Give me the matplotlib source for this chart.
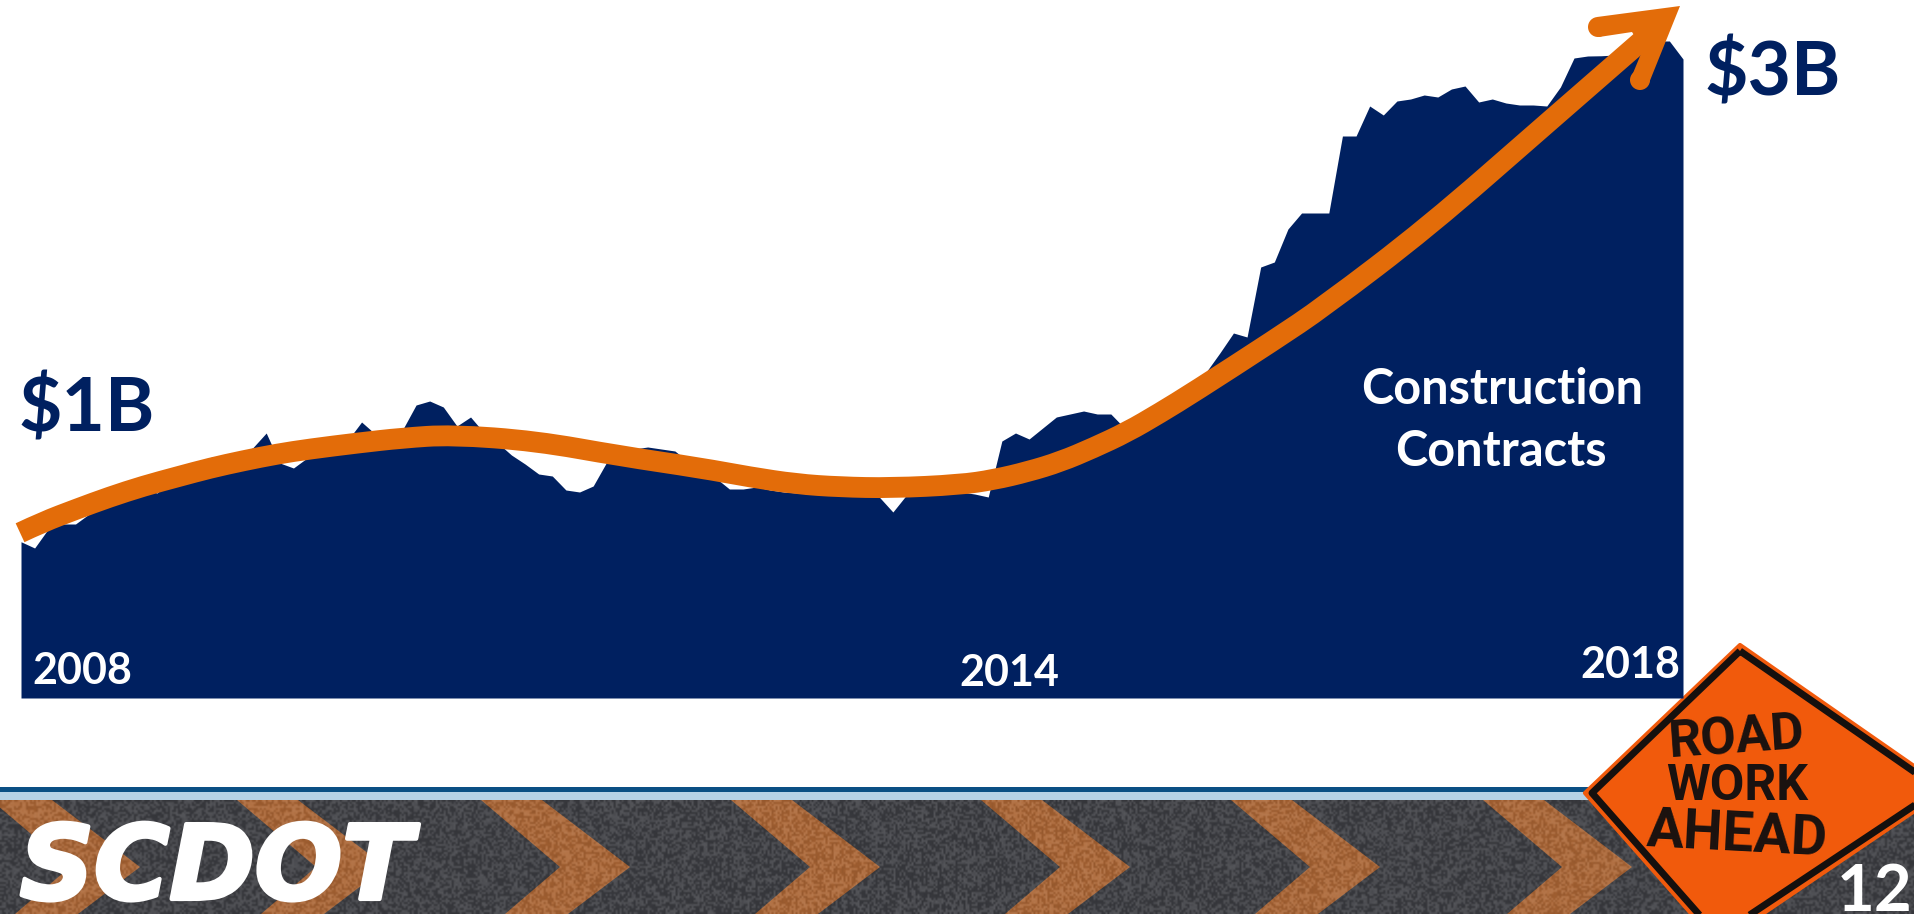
import numpy as np
import matplotlib
matplotlib.use("Agg")
import matplotlib.pyplot as plt
import matplotlib.patheffects as pe
from matplotlib.patches import Polygon, Circle, PathPatch
from matplotlib.path import Path

NAVY = "#002060"
ORANGE = "#E36C09"

# monthly construction contracts, $ billions
contracts = [
    1.000, 0.975, 1.051, 1.071, 1.071, 1.111, 1.135, 1.159, 1.179, 1.207, 1.195,
    1.255, 1.287, 1.307, 1.339, 1.339, 1.355, 1.375, 1.435, 1.315, 1.295, 1.335,
    1.359, 1.379, 1.407, 1.479, 1.431, 1.439, 1.447, 1.547, 1.563, 1.539, 1.463,
    1.499, 1.435, 1.395, 1.347, 1.311, 1.271, 1.263, 1.207, 1.199, 1.223, 1.319,
    1.355, 1.371, 1.379, 1.371, 1.363, 1.319, 1.287, 1.255, 1.211, 1.211, 1.219,
    1.207, 1.199, 1.195, 1.191, 1.191, 1.187, 1.187, 1.183, 1.179, 1.119, 1.187,
    1.191, 1.191, 1.195, 1.199, 1.191, 1.179, 1.403, 1.435, 1.411, 1.455, 1.499,
    1.511, 1.523, 1.511, 1.511, 1.455, 1.447, 1.459, 1.495, 1.547, 1.615, 1.679,
    1.755, 1.835, 1.819, 2.099, 2.119, 2.251, 2.315, 2.315, 2.315, 2.623, 2.623,
    2.743, 2.707, 2.763, 2.771, 2.787, 2.779, 2.811, 2.823, 2.759, 2.771, 2.755,
    2.747, 2.747, 2.743, 2.819, 2.935, 2.943, 2.944, 2.947, 2.967, 2.975, 3.003,
    3.003, 2.931,
]
months = np.arange(len(contracts))

# orange trend line
trend_months = [-0.07, 1.6, 4.1, 6.5, 9.0, 11.5, 13.9, 16.3, 18.8, 21.2, 24.7, 28.0, 31.6,
                37.8, 44.0, 49.9, 53.5, 56.9, 60.1, 63.9, 68.9, 71.4, 73.9, 76.3, 78.7,
                81.2, 83.6, 86.1, 92.0, 95.6, 103.3, 111.7, 119.2]
trend_values = [1.036, 1.079, 1.131, 1.179, 1.223, 1.260, 1.295, 1.324, 1.351, 1.371, 1.395,
                1.415, 1.428, 1.403, 1.343, 1.295, 1.259, 1.231, 1.219, 1.215, 1.228, 1.248,
                1.280, 1.320, 1.375, 1.439, 1.515, 1.599, 1.807, 1.939, 2.259, 2.659, 3.015]

year_labels = ["2008", "2014", "2018"]

fig = plt.figure(figsize=(19.15, 9.14), dpi=100, facecolor="white")

# decoration axes in pixels
deco = fig.add_axes([0, 0, 1, 1], zorder=0)
deco.axis("off")

# road band
deco.add_patch(Polygon([(0, 787), (1915, 787), (1915, 792), (0, 792)], fc="#0b4f84", ec="none"))
deco.add_patch(Polygon([(0, 792), (1915, 792), (1915, 800), (0, 800)], fc="#b7d2e6", ec="none"))
deco.add_patch(Polygon([(0, 800), (1915, 800), (1915, 914), (0, 914)], fc="#3c3d42", ec="none"))
for a in [140, 386, 630, 880, 1130, 1380, 1632]:
    deco.add_patch(Polygon([(a - 149, 800), (a - 88, 800), (a, 867), (a - 62, 914),
                            (a - 125, 914), (a - 70, 867)], fc="#ab6534", ec="none"))

# asphalt grain, only a texture
yy, xx = np.mgrid[0:57, 0:958]
grain = (np.sin(xx * 12.9898 + yy * 78.233) * 43758.5453) % 1
tex = np.zeros((57, 958, 4))
tex[..., 0] = tex[..., 1] = tex[..., 2] = (grain > 0.5) * 1.0
tex[..., 3] = 0.07 + 0.12 * np.abs(grain - 0.5)
deco.imshow(tex, extent=[0, 1915, 914, 800], aspect="auto", interpolation="bilinear", zorder=2)

deco.text(20, 899, "SCDOT", color="white", fontsize=74, family="DejaVu Sans",
          weight="bold", style="italic", ha="left", va="baseline", zorder=3,
          path_effects=[pe.withStroke(linewidth=3, foreground="white")])

# road sign
deco.add_patch(Polygon([(1740, 645), (1947, 789), (1718, 944), (1585, 793)], fc="#F15A0C",
                       ec="#F15A0C", lw=3, joinstyle="round", zorder=4))
deco.add_patch(Polygon([(1740, 651), (1939, 789), (1718, 936), (1592, 793)], fc="none",
                       ec="#15100e", lw=5, joinstyle="round", zorder=5))
deco.text(1737, 739, "ROAD", color="#1a1210", fontsize=37, family="Roboto", weight="bold",
          rotation=4, ha="center", va="center", zorder=6)
deco.text(1737, 786, "WORK", color="#1a1210", fontsize=36, family="Roboto", weight="bold",
          ha="center", va="center", zorder=6)
deco.text(1737, 836, "AHEAD", color="#1a1210", fontsize=40, family="Roboto", weight="bold",
          rotation=-3, ha="center", va="center", zorder=6)
deco.text(1913, 911, "12", color="white", fontsize=47, family="Lato", weight="bold",
          ha="right", va="baseline", zorder=7)

deco.set_xlim(0, 1915)
deco.set_ylim(914, 0)

# chart axes
ax = fig.add_axes([21 / 1915, (914 - 698) / 914, 1662 / 1915, 698 / 914], zorder=1)
ax.axis("off")
ax.set_xlim(0, len(contracts) - 1)
ax.set_ylim(0.375, 3.167)
ax.fill_between(months, 0.375, contracts, color=NAVY, lw=0)

# trend smoothed with quadratic segments through the midpoints
pts = np.column_stack([trend_months, trend_values])
verts = [pts[0]]
codes = [Path.MOVETO]
for i in range(1, len(pts) - 1):
    end = pts[-1] if i == len(pts) - 2 else (pts[i] + pts[i + 1]) / 2
    verts += [pts[i], end]
    codes += [Path.CURVE3, Path.CURVE3]
ax.add_patch(PathPatch(Path(verts, codes), fc="none", ec=ORANGE, lw=15, capstyle="butt",
                       joinstyle="round", clip_on=False, zorder=3))

# arrow head, in pixels
px = deco.transData
ax.add_patch(Polygon([(1680, 6), (1597, 17), (1599, 37), (1632, 32), (1643, 49), (1631, 78),
                      (1649, 83)], fc=ORANGE, ec="none", transform=px, clip_on=False, zorder=4))
ax.add_patch(Circle((1598, 27), 10, fc=ORANGE, ec="none", transform=px, clip_on=False, zorder=4))
ax.add_patch(Circle((1640, 80), 10, fc=ORANGE, ec="none", transform=px, clip_on=False, zorder=4))

font = "Lato"
ax.text(19, 431, "$1B", color=NAVY, fontsize=54, family=font, weight="bold", transform=px,
        ha="left", va="baseline", zorder=5)
ax.text(1705, 95, "$3B", color=NAVY, fontsize=54, family=font, weight="bold", transform=px,
        ha="left", va="baseline", zorder=5)
ax.text(1502, 404, "Construction", color="white", fontsize=35, family=font, weight="bold",
        transform=px, ha="center", va="baseline", zorder=5)
ax.text(1501, 466, "Contracts", color="white", fontsize=35, family=font, weight="bold",
        transform=px, ha="center", va="baseline", zorder=5)
for label, x, y in zip(year_labels, [82, 1009, 1630], [684, 686, 678]):
    ax.text(x, y, label, color="white", fontsize=31, family=font, weight="bold",
            transform=px, ha="center", va="baseline", zorder=5)

fig.savefig("out.png", dpi=100)
